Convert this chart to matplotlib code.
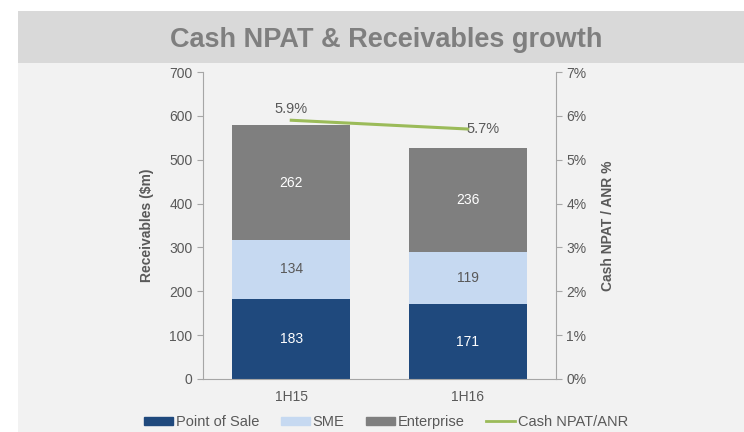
import matplotlib.pyplot as plt
from matplotlib.patches import Rectangle
from matplotlib.lines import Line2D
import numpy as np

plt.rcParams['font.family'] = ['Liberation Sans', 'DejaVu Sans']

periods = ['1H15', '1H16']
point_of_sale = [183, 171]
sme = [134, 119]
enterprise = [262, 236]
npat_anr = [5.9, 5.7]

c_pos = '#1f497d'
c_sme = '#c6d9f1'
c_ent = '#7f7f7f'
c_line = '#9bbb59'
txt = '#595959'

fig = plt.figure(figsize=(7.44, 4.32), dpi=100, facecolor='white')
W, H = 744, 432
# gray panel and title band
fig.patches.append(Rectangle((18 / W, 0), 1 - 18 / W, 1 - 11 / H, transform=fig.transFigure,
                             facecolor='#f2f2f2', edgecolor='none', zorder=-2))
fig.patches.append(Rectangle((18 / W, 1 - 63 / H), 1 - 18 / W, 52 / H, transform=fig.transFigure,
                             facecolor='#d9d9d9', edgecolor='none', zorder=-1))
fig.text(386 / W, 1 - 40 / H, 'Cash NPAT & Receivables growth', ha='center', va='center',
         fontsize=19.5, fontweight='bold', color='#7f7f7f')

ax = fig.add_axes([203 / W, 1 - 379 / H, 353 / W, 307 / H])
ax.set_facecolor('none')
x = np.arange(len(periods))
w = 0.67
pos = np.array(point_of_sale)
s = np.array(sme)
e = np.array(enterprise)
ax.bar(x, pos, w, color=c_pos, label='Point of Sale')
ax.bar(x, s, w, bottom=pos, color=c_sme, label='SME')
ax.bar(x, e, w, bottom=pos + s, color=c_ent, label='Enterprise')
for i in range(len(x)):
    ax.text(x[i], pos[i] / 2, str(pos[i]), ha='center', va='center', color='white', fontsize=10)
    ax.text(x[i], pos[i] + s[i] / 2, str(s[i]), ha='center', va='center', color=txt, fontsize=10)
    ax.text(x[i], pos[i] + s[i] + e[i] / 2, str(e[i]), ha='center', va='center', color='white', fontsize=10)

ax.set_xlim(-0.5, 1.5)
ax.set_ylim(0, 700)
ax.set_yticks(range(0, 701, 100))
ax.set_xticks(x)
ax.set_xticklabels(periods)
ax.set_ylabel('Receivables ($m)', fontsize=10, fontweight='bold', color=txt, labelpad=11)
for sp in ['top', 'right']:
    ax.spines[sp].set_visible(False)
for sp in ['left', 'bottom']:
    ax.spines[sp].set_color('#a6a6a6')
ax.tick_params(axis='x', length=0, colors=txt, labelsize=10, pad=8)
ax.tick_params(axis='y', colors=txt, labelsize=10, direction='out', length=4, color='#a6a6a6')

ax2 = ax.twinx()
ax2.plot(x, npat_anr, color=c_line, linewidth=2.2)
ax2.set_ylim(0, 7)
ax2.set_yticks(range(0, 8))
ax2.set_yticklabels([f'{v}%' for v in range(0, 8)])
ax2.set_ylabel('Cash NPAT / ANR %', fontsize=10, fontweight='bold', color=txt, labelpad=10)
for sp in ['top', 'left', 'bottom']:
    ax2.spines[sp].set_visible(False)
ax2.spines['right'].set_color('#a6a6a6')
ax2.tick_params(axis='y', colors=txt, labelsize=10, direction='out', length=4, color='#a6a6a6')
ax2.text(x[0], npat_anr[0] + 0.1, f'{npat_anr[0]}%', ha='center', va='bottom', color=txt, fontsize=10.5)
ax2.text(x[1] - 0.01, npat_anr[1], f'{npat_anr[1]}%', ha='left', va='center', color=txt, fontsize=10.5)

handles = [Rectangle((0, 0), 1, 1, color=c_pos), Rectangle((0, 0), 1, 1, color=c_sme),
           Rectangle((0, 0), 1, 1, color=c_ent), Line2D([0], [0], color=c_line, linewidth=2)]
labels = ['Point of Sale', 'SME', 'Enterprise', 'Cash NPAT/ANR']
leg = fig.legend(handles, labels, loc='center', bbox_to_anchor=(386 / W, 1 - 422 / H), ncol=4,
                 frameon=False, fontsize=10.5, handlelength=2.0, handleheight=0.45,
                 handletextpad=0.2, columnspacing=1.45, labelcolor=txt)

fig.savefig('out.png', dpi=100, facecolor=fig.get_facecolor())
